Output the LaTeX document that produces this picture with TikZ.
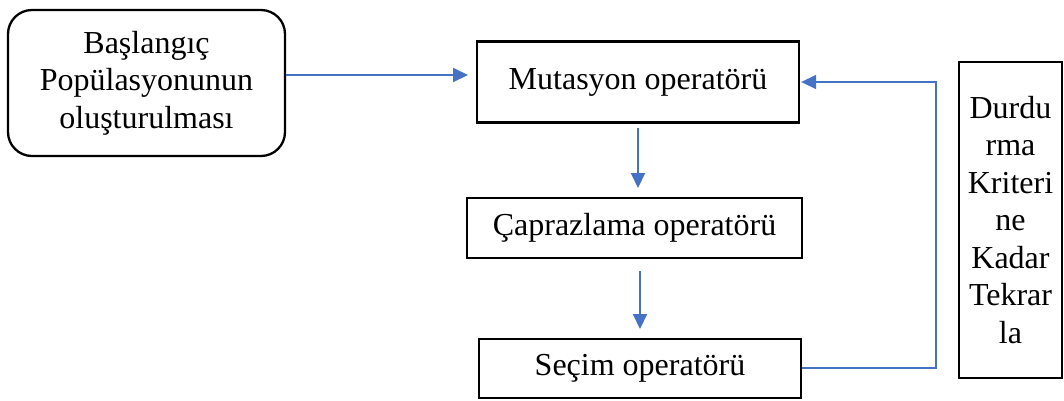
\documentclass[tikz,border=0pt]{standalone}
\usepackage{fontspec}
\setmainfont{Liberation Serif}
\usetikzlibrary{arrows.meta}
\definecolor{flowblue}{HTML}{4472C4}
\begin{document}
\begin{tikzpicture}[x=1pt,y=-1pt,
  box/.style={draw=black,line width=2.3pt,inner sep=0pt,align=center,
    font=\fontsize{32}{37.5}\selectfont},
  flow/.style={draw=flowblue,line width=2pt,-{Triangle[length=15pt,width=14pt]}},
  back/.style={draw=flowblue,line width=1.4pt,-{Triangle[length=15pt,width=14pt]}}]
\useasboundingbox (0,0) rectangle (1064,400);
\node[box,rounded corners=24pt,minimum width=277pt,minimum height=146pt] (start) at (146.5,83) {Başlangıç\\Popülasyonunun\\oluşturulması};
\node[box,minimum width=322pt,minimum height=81pt] (mut) at (638,82) {\raisebox{-5pt}{Mutasyon operatörü}};
\node[box,minimum width=335pt,minimum height=60pt] (cap) at (634.5,228) {Çaprazlama operatörü};
\node[box,minimum width=322pt,minimum height=59pt] (sec) at (640,368.5) {\raisebox{-2pt}{Seçim operatörü}};
\node[box,minimum width=103pt,minimum height=316pt] (dur) at (1010.5,220) {Durdu\\rma\\Kriteri\\ne\\Kadar\\Tekrar\\la};
\coordinate (a1s) at (638,128);
\coordinate (a1e) at (638,188);
\coordinate (a2s) at (640,271);
\coordinate (a2e) at (640,329);
\coordinate (fb1) at (936,368);
\coordinate (fb2) at (936,82);
\draw[flow] (start.east |- 0,75) -- (468,75);
\draw[flow] (a1s) -- (a1e);
\draw[flow] (a2s) -- (a2e);
\draw[back] (sec.east |- fb1) -- (fb1) -- (fb2) -- ([xshift=1pt]mut.east |- fb2);
\end{tikzpicture}
\end{document}
